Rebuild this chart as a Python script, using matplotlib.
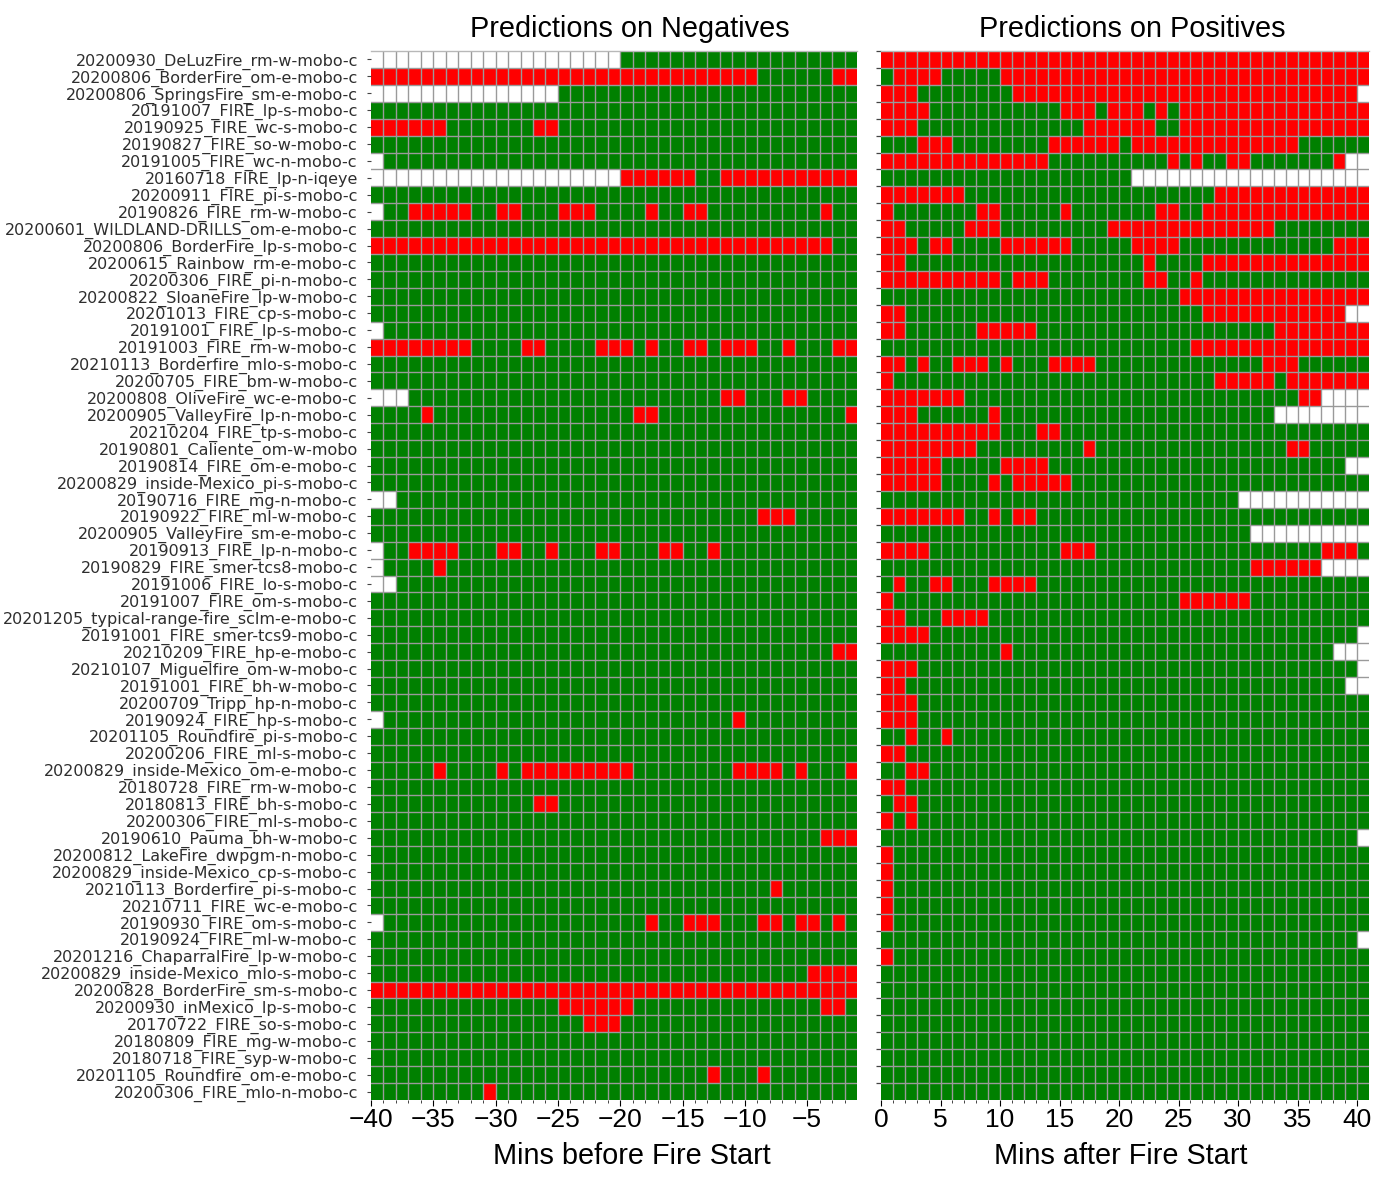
import re
import numpy as np
import matplotlib
matplotlib.use('Agg')
import matplotlib.pyplot as plt
from matplotlib.colors import ListedColormap

# camera names, top row first
cameras = [
    '20200930_DeLuzFire_rm-w-mobo-c', '20200806_BorderFire_om-e-mobo-c', '20200806_SpringsFire_sm-e-mobo-c',
    '20191007_FIRE_lp-s-mobo-c', '20190925_FIRE_wc-s-mobo-c', '20190827_FIRE_so-w-mobo-c',
    '20191005_FIRE_wc-n-mobo-c', '20160718_FIRE_lp-n-iqeye', '20200911_FIRE_pi-s-mobo-c',
    '20190826_FIRE_rm-w-mobo-c', '20200601_WILDLAND-DRILLS_om-e-mobo-c', '20200806_BorderFire_lp-s-mobo-c',
    '20200615_Rainbow_rm-e-mobo-c', '20200306_FIRE_pi-n-mobo-c', '20200822_SloaneFire_lp-w-mobo-c',
    '20201013_FIRE_cp-s-mobo-c', '20191001_FIRE_lp-s-mobo-c', '20191003_FIRE_rm-w-mobo-c',
    '20210113_Borderfire_mlo-s-mobo-c', '20200705_FIRE_bm-w-mobo-c', '20200808_OliveFire_wc-e-mobo-c',
    '20200905_ValleyFire_lp-n-mobo-c', '20210204_FIRE_tp-s-mobo-c', '20190801_Caliente_om-w-mobo',
    '20190814_FIRE_om-e-mobo-c', '20200829_inside-Mexico_pi-s-mobo-c', '20190716_FIRE_mg-n-mobo-c',
    '20190922_FIRE_ml-w-mobo-c', '20200905_ValleyFire_sm-e-mobo-c', '20190913_FIRE_lp-n-mobo-c',
    '20190829_FIRE_smer-tcs8-mobo-c', '20191006_FIRE_lo-s-mobo-c', '20191007_FIRE_om-s-mobo-c',
    '20201205_typical-range-fire_sclm-e-mobo-c', '20191001_FIRE_smer-tcs9-mobo-c', '20210209_FIRE_hp-e-mobo-c',
    '20210107_Miguelfire_om-w-mobo-c', '20191001_FIRE_bh-w-mobo-c', '20200709_Tripp_hp-n-mobo-c',
    '20190924_FIRE_hp-s-mobo-c', '20201105_Roundfire_pi-s-mobo-c', '20200206_FIRE_ml-s-mobo-c',
    '20200829_inside-Mexico_om-e-mobo-c', '20180728_FIRE_rm-w-mobo-c', '20180813_FIRE_bh-s-mobo-c',
    '20200306_FIRE_ml-s-mobo-c', '20190610_Pauma_bh-w-mobo-c', '20200812_LakeFire_dwpgm-n-mobo-c',
    '20200829_inside-Mexico_cp-s-mobo-c', '20210113_Borderfire_pi-s-mobo-c', '20210711_FIRE_wc-e-mobo-c',
    '20190930_FIRE_om-s-mobo-c', '20190924_FIRE_ml-w-mobo-c', '20201216_ChaparralFire_lp-w-mobo-c',
    '20200829_inside-Mexico_mlo-s-mobo-c', '20200828_BorderFire_sm-s-mobo-c', '20200930_inMexico_lp-s-mobo-c',
    '20170722_FIRE_so-s-mobo-c', '20180809_FIRE_mg-w-mobo-c', '20180718_FIRE_syp-w-mobo-c',
    '20201105_Roundfire_om-e-mobo-c', '20200306_FIRE_mlo-n-mobo-c',
]

# each row is written as runs: w = no data, g = no detection, r = detection
negatives = [
    'w20 g19', 'r31 g6 r2', 'w15 g24', 'g39', 'r6 g7 r2 g24', 'g39', 'w1 g38', 'w20 r6 g2 r11', 'g39',
    'w1 g2 r5 g2 r2 g3 r3 g4 r1 g2 r2 g9 r1 g2', 'g39', 'r37 g2', 'g39', 'g39', 'g39', 'g39', 'w1 g38',
    'r8 g4 r2 g4 r3 g1 r1 g2 r2 g1 r3 g2 r1 g3 r2', 'g39', 'g39', 'w3 g25 r2 g3 r2 g4',
    'g4 r1 g16 r2 g15 r1', 'g39', 'g39', 'g39', 'g39', 'w2 g37', 'g31 r3 g5', 'g39',
    'w1 g2 r4 g3 r2 g2 r1 g3 r2 g3 r2 g2 r1 g11', 'w1 g4 r1 g33', 'w2 g37', 'g39', 'g39', 'g39', 'g37 r2',
    'g39', 'g39', 'g39', 'w1 g28 r1 g9', 'g39', 'g39', 'g5 r1 g4 r1 g1 r9 g8 r4 g1 r1 g3 r1', 'g39',
    'g13 r2 g24', 'g39', 'g36 r3', 'g39', 'g39', 'g32 r1 g6', 'g39',
    'w1 g21 r1 g2 r3 g3 r2 g1 r2 g1 r1 g1', 'g39', 'g39', 'g35 r4', 'r39', 'g15 r6 g15 r2 g1', 'g17 r3 g19',
    'g39', 'g39', 'g27 r1 g3 r1 g7', 'g9 r1 g29',
]

positives = [
    'r41', 'g1 r4 g5 r31', 'r3 g8 r29 w1', 'r4 g11 r3 g1 r3 g1 r1 g1 r16', 'r3 g14 r6 g2 r16',
    'g3 r3 g8 r6 g1 r14 g6', 'r14 g10 r1 g1 r1 g2 r2 g7 r1 w2', 'g21 w20', 'r7 g21 r13',
    'r1 g7 r2 g5 r1 g7 r2 g2 r14', 'r2 g5 r3 g9 r14 g8', 'r3 g1 r2 g4 r6 g5 r4 g13 r3', 'r2 g20 r1 g4 r14',
    'r10 g1 r3 g8 r2 g2 r1 g14', 'g25 r16', 'r2 g25 r12 w2', 'r2 g6 r5 g20 r8', 'g26 r15',
    'r2 g1 r1 g2 r3 g1 r1 g3 r4 g14 r3 g6', 'r1 g27 r5 g1 r7', 'r7 g28 r2 w4', 'r3 g6 r1 g23 w8',
    'r10 g3 r2 g26', 'r8 g9 r1 g16 r2 g5', 'r5 g5 r4 g25 w2', 'r5 g4 r1 g1 r5 g25', 'g30 w11',
    'r7 g2 r1 g1 r2 g28', 'g31 w10', 'r4 g11 r3 g19 r3 g1', 'g31 r6 w4', 'g1 r1 g2 r2 g3 r4 g28',
    'r1 g24 r6 g10', 'r2 g3 r4 g32', 'r4 g36 w1', 'g10 r1 g27 w3', 'r3 g37 w1', 'r2 g37 w2', 'r3 g38',
    'r3 g38', 'g2 r1 g2 r1 g35', 'r2 g39', 'g2 r2 g37', 'r2 g39', 'g1 r2 g38', 'r1 g1 r1 g38', 'g40 w1',
    'r1 g40', 'r1 g40', 'r1 g40', 'r1 g40', 'r1 g40', 'g40 w1', 'r1 g40', 'g41', 'g41', 'g41', 'g41', 'g41',
    'g41', 'g41', 'g41',
]

neg_ticklabels = ['−40', '−35', '−30', '−25', '−20', '−15', '−10', '−5']
pos_ticklabels = ['0', '5', '10', '15', '20', '25', '30', '35', '40']

CODES = {'w': 0, 'g': 1, 'r': 2}


def runs_to_grid(rows):
    grid = []
    for row in rows:
        cells = []
        for letter, count in re.findall(r'([wgr])(\d+)', row):
            cells += [CODES[letter]] * int(count)
        grid.append(cells)
    return np.array(grid)


W, H = 1393, 1189
cmap = ListedColormap(['white', '#008000', '#ff0000'])
LINE = '#9a9a9a'

fig = plt.figure(figsize=(W / 100, H / 100), dpi=100)
ax_neg = fig.add_axes([371 / W, 1 - 1100 / H, 486 / W, 1049 / H])
ax_pos = fig.add_axes([881 / W, 1 - 1100 / H, 488 / W, 1049 / H])

for ax, rows in [(ax_neg, negatives), (ax_pos, positives)]:
    grid = runs_to_grid(rows)
    nrows, ncols = grid.shape
    ax.pcolormesh(grid, cmap=cmap, vmin=0, vmax=2)
    # grid lines drawn separately, mesh edges came out uneven
    for y in range(1, nrows):
        ax.axhline(y, color=LINE, lw=1.0)
    for x in range(1, ncols):
        ax.axvline(x, color=LINE, lw=1.0)
    ax.axhline(0, color='#b8b8b8', lw=1.0, clip_on=False)
    ax.set_ylim(nrows, 0)
    ax.set_xlim(0, ncols)
    for s in ax.spines.values():
        s.set_visible(False)
    ax.set_xticks(np.arange(0, ncols, 1), minor=True)
    ax.tick_params(axis='x', which='minor', length=2.5, width=0.7, color='#444444')
    ax.tick_params(axis='x', which='major', length=4, width=0.8, labelsize=19, pad=2)

ax_neg.set_xticks(np.arange(0, 40, 5), neg_ticklabels, family='Liberation Sans')
ax_pos.set_xticks(np.arange(0, 41, 5), pos_ticklabels, family='Liberation Sans')

# camera names sit at row centres on the left panel
ax_neg.set_yticks(np.arange(len(cameras)) + 0.5, cameras, fontsize=11.55, color='#2e2e2e')
ax_neg.tick_params(axis='y', length=3, width=0.8, pad=6.5, color='#444444')

# right panel has unlabelled ticks on the row edges
ax_pos.set_yticks(np.arange(len(cameras)))
ax_pos.set_yticklabels([])
ax_pos.tick_params(axis='y', length=3.5, width=0.9, color='#444444')

ax_neg.text((630 - 371) / 486, 1.008, 'Predictions on Negatives', transform=ax_neg.transAxes,
            ha='center', va='bottom', fontsize=20.8, family='Liberation Sans')
ax_pos.text((1132 - 881) / 488, 1.008, 'Predictions on Positives', transform=ax_pos.transAxes,
            ha='center', va='bottom', fontsize=20.8, family='Liberation Sans')

fig.text(631.5 / W, 1 - 1156 / H, 'Mins before Fire Start', ha='center', va='center',
         fontsize=20.8, family='Liberation Sans')
fig.text(1120.5 / W, 1 - 1156 / H, 'Mins after Fire Start', ha='center', va='center',
         fontsize=20.8, family='Liberation Sans')

fig.savefig('out.png', dpi=100)
